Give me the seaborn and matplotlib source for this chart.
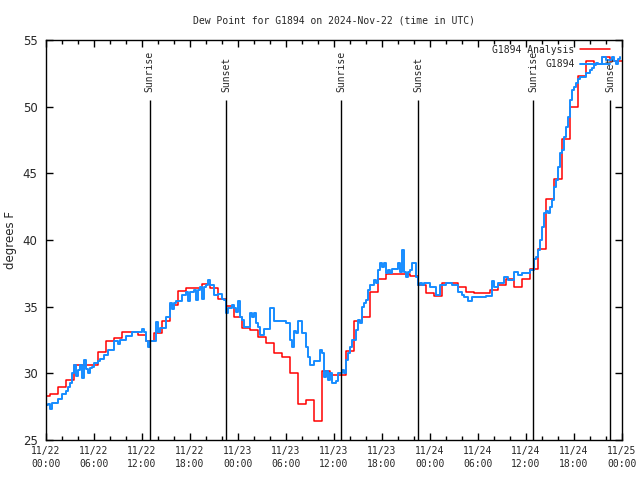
import numpy as np
import pandas as pd
import seaborn as sns
import matplotlib
matplotlib.use("Agg")
import matplotlib.pyplot as plt

# hours since 2024-11-22 00:00 UTC
sun_hours = [12.95, 22.5, 36.9, 46.5, 60.9, 70.5]
sun_labels = ["Sunrise", "Sunset", "Sunrise", "Sunset", "Sunrise", "Sunset"]

tick_hours = list(range(0, 73, 6))
tick_labels = ["11/22\n00:00", "11/22\n06:00", "11/22\n12:00", "11/22\n18:00",
               "11/23\n00:00", "11/23\n06:00", "11/23\n12:00", "11/23\n18:00",
               "11/24\n00:00", "11/24\n06:00", "11/24\n12:00", "11/24\n18:00",
               "11/25\n00:00"]

# hourly analysis values (F)
analysis = [28.3, 28.45, 29.0, 29.5, 30.6, 30.65, 30.65, 31.6, 32.4, 32.65,
            33.1, 33.1, 32.9, 32.4, 33.0, 33.9, 35.1, 36.2, 36.4, 36.4,
            36.7, 36.4, 35.6, 35.05, 34.2, 33.4, 33.25, 32.75, 32.25, 31.5,
            31.2, 30.0, 27.7, 28.0, 26.4, 30.2, 29.9, 29.9, 31.7, 33.9,
            34.2, 36.1, 37.1, 37.45, 37.45, 37.45, 37.3, 36.6, 36.0, 35.8,
            36.75, 36.8, 36.5, 36.1, 36.0, 36.0, 36.25, 36.6, 37.05, 36.5,
            37.1, 37.8, 39.3, 43.1, 44.55, 47.55, 49.95, 52.3, 53.4, 53.2,
            53.7, 53.45, 53.45]

# station observations, every 15 min (F)
obs = [27.6, 27.7, 27.3, 27.75, 27.75, 27.75, 28.05, 28.05,
       28.45, 28.45, 28.7, 29.0, 29.3, 30.0, 30.6, 29.8,
       30.25, 30.6, 29.65, 31.0, 30.3, 30.0, 30.4, 30.5,
       30.75, 30.75, 30.95, 31.1, 31.1, 31.4, 31.4, 31.75,
       31.75, 31.75, 32.4, 32.4, 32.2, 32.5, 32.5, 32.5,
       32.8, 32.8, 32.8, 33.1, 33.1, 33.1, 33.1, 33.1,
       33.3, 33.1, 32.4, 32.0, 32.4, 32.4, 32.4, 33.85,
       33.1, 33.4, 33.4, 33.4, 34.25, 34.25, 35.25, 34.8,
       35.25, 35.4, 35.4, 35.4, 35.9, 35.9, 36.1, 35.4,
       36.1, 36.1, 36.25, 35.5, 36.25, 36.5, 35.6, 36.5,
       36.6, 37.0, 36.6, 36.6, 35.9, 35.9, 35.95, 35.95,
       35.6, 35.5, 34.5, 34.9, 34.9, 35.1, 34.9, 34.6,
       35.4, 34.25, 34.0, 33.5, 33.5, 33.5, 34.5, 34.2,
       34.5, 33.8, 33.5, 32.9, 32.9, 33.3, 33.3, 33.3,
       34.9, 34.9, 33.9, 33.9, 33.9, 33.9, 33.9, 33.9,
       33.8, 33.8, 32.5, 32.0, 33.2, 33.0, 33.9, 33.9,
       33.0, 33.0, 32.0, 31.25, 30.6, 30.6, 30.9, 30.9,
       30.9, 31.75, 31.5, 29.75, 30.2, 29.5, 30.0, 29.25,
       29.25, 29.4, 30.0, 30.0, 30.25, 30.0, 31.0, 31.5,
       32.0, 32.5, 32.5, 33.25, 34.0, 33.8, 35.0, 35.3,
       35.5, 36.25, 36.6, 36.6, 37.0, 36.8, 37.75, 38.25,
       38.0, 38.25, 37.5, 37.75, 37.5, 37.8, 37.8, 37.8,
       38.25, 37.6, 39.25, 37.6, 37.25, 37.6, 37.75, 38.25,
       38.25, 37.25, 36.6, 36.75, 36.6, 36.8, 36.8, 36.8,
       36.5, 36.5, 36.5, 35.9, 35.9, 36.6, 36.6, 36.6,
       36.8, 36.8, 36.8, 36.6, 36.6, 36.6, 36.1, 36.1,
       35.9, 35.75, 35.75, 35.45, 35.45, 35.75, 35.75, 35.75,
       35.75, 35.75, 35.75, 35.75, 35.8, 35.8, 35.8, 36.9,
       36.5, 36.5, 36.8, 36.8, 36.8, 37.25, 37.25, 37.0,
       37.0, 37.0, 37.6, 37.6, 37.4, 37.4, 37.5, 37.5,
       37.5, 37.5, 37.75, 37.75, 38.6, 38.75, 39.25, 40.0,
       41.0, 42.0, 42.2, 42.0, 42.5, 43.0, 44.0, 44.5,
       45.5, 46.5, 46.75, 47.75, 48.5, 49.25, 50.5, 51.25,
       51.5, 51.75, 52.1, 52.25, 52.25, 52.25, 52.5, 52.5,
       52.75, 52.9, 53.1, 53.25, 53.2, 53.2, 53.75, 53.75,
       53.5, 53.5, 53.5, 53.75, 53.4, 53.2, 53.6, 53.7]

df_an = pd.DataFrame({"hours": np.arange(len(analysis)), "dewpoint": analysis})
df_obs = pd.DataFrame({"hours": np.arange(len(obs)) * 0.25, "dewpoint": obs})

sns.set_theme(style="ticks")
plt.rcParams["font.family"] = ["DejaVu Sans Mono"]
plt.rcParams["xtick.direction"] = "in"
plt.rcParams["ytick.direction"] = "in"

fig = plt.figure(figsize=(6.4, 4.8), dpi=100)
ax = fig.add_axes([46 / 640, 40 / 480, 576 / 640, 400 / 480])

sns.lineplot(data=df_an, x="hours", y="dewpoint", color="#ff0000", lw=1.1,
             drawstyle="steps-mid", estimator=None, label="G1894 Analysis", ax=ax)
sns.lineplot(data=df_obs, x="hours", y="dewpoint", color="#168cff", lw=1.4,
             drawstyle="steps-post", estimator=None, label="G1894", ax=ax)

ax.vlines(sun_hours, 0, 0.85, transform=ax.get_xaxis_transform(), color="black", lw=1)
for h, lab in zip(sun_hours, sun_labels):
    ax.text(h, 0.87, lab, transform=ax.get_xaxis_transform(), rotation=90,
            ha="center", va="bottom", fontsize=7)

ax.set_xlim(0, 72)
ax.set_ylim(25, 55)
ax.set_xticks(tick_hours)
ax.set_xticklabels(tick_labels, fontsize=7, linespacing=1.45)
ax.set_xticks(range(0, 73, 2), minor=True)
ax.set_yticks(range(25, 56, 5))
ax.set_yticklabels([str(v) for v in range(25, 56, 5)], family="DejaVu Sans", fontsize=8.5)
ax.tick_params(which="both", top=True, right=True, color="black", width=1)
ax.tick_params(axis="x", which="major", length=5, pad=4)
ax.tick_params(axis="x", which="minor", length=3)
ax.tick_params(axis="y", length=5, pad=6)
for s in ax.spines.values():
    s.set_color("black")
    s.set_linewidth(1)

ax.set_xlabel("")
ax.set_ylabel("degrees F", family="DejaVu Sans", fontsize=8.5, va="center")
ax.yaxis.set_label_coords(-0.061, 0.5)
ax.set_title("Dew Point for G1894 on 2024-Nov-22 (time in UTC)", fontsize=7, pad=12)

ax.legend(loc="upper right", bbox_to_anchor=(0.98, 0.988), frameon=False,
          markerfirst=False, fontsize=7, handlelength=3.1, handletextpad=0.6,
          labelspacing=0.45, borderpad=0, borderaxespad=0)

fig.savefig("out.png", dpi=100)
